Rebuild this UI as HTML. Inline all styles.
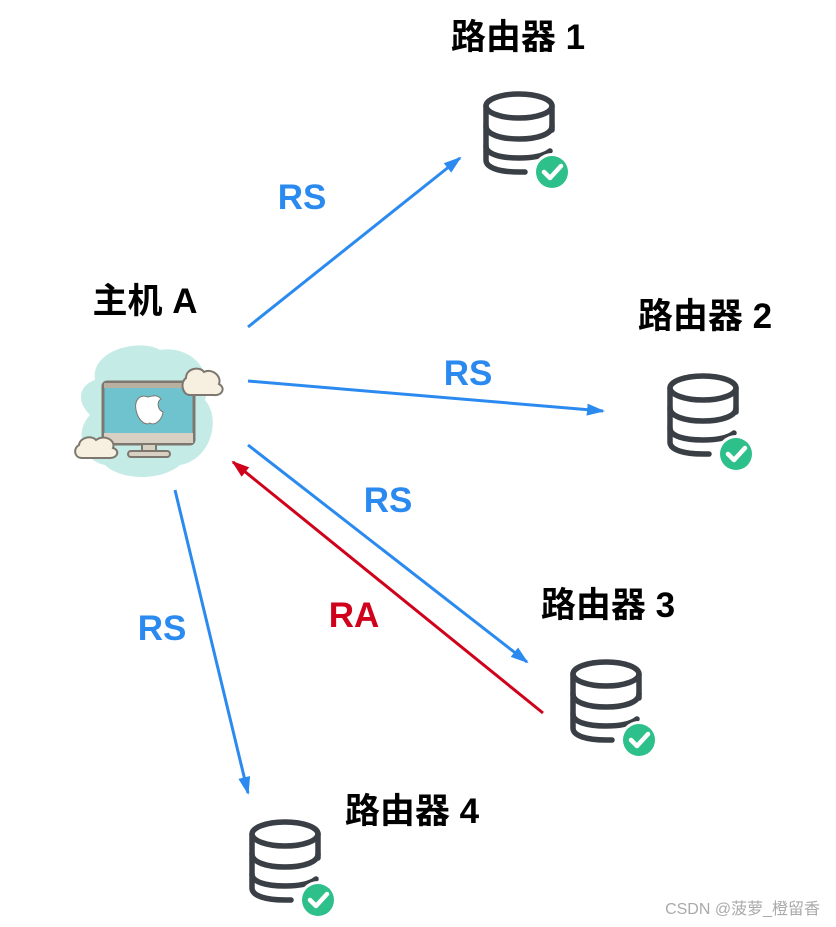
<!DOCTYPE html>
<html><head><meta charset="utf-8"><style>
body{margin:0;background:#fff;width:836px;height:927px;overflow:hidden}
svg{display:block}
text{font-family:"Liberation Sans","Noto Sans CJK SC",sans-serif;font-weight:bold}
</style></head><body>
<svg width="836" height="927" viewBox="0 0 836 927">
<defs>
<marker id="ab" markerWidth="18" markerHeight="14" refX="16" refY="7" orient="auto" markerUnits="userSpaceOnUse"><path d="M0,1 L18,7 L0,13 Z" fill="#2b8af0"/></marker>
<marker id="ar" markerWidth="18" markerHeight="14" refX="16" refY="7" orient="auto" markerUnits="userSpaceOnUse"><path d="M0,1 L18,7 L0,13 Z" fill="#d0021b"/></marker>
<g id="db">
 <g fill="none" stroke="#3a3f45" stroke-width="5.5" stroke-linecap="round">
  <ellipse cx="519" cy="106" rx="33" ry="12"/>
  <path d="M486,106 V160 C486,168 500,172 519,172 H525"/>
  <path d="M552,106 V130"/>
  <path d="M486,126 C486,134 500,139 519,139 C538,139 552,134 552,126"/>
  <path d="M486,146 C486,154 500,158 519,158 C535,158 545,155 550,151"/>
 </g>
 <circle cx="552" cy="172" r="19" fill="#fff"/>
 <circle cx="552" cy="172" r="16" fill="#2ec08a"/>
 <path d="M544,172 L550,178 L561,166" fill="none" stroke="#fff" stroke-width="4.5" stroke-linecap="round" stroke-linejoin="round"/>
</g>
</defs>
<use href="#db"/>
<use href="#db" transform="translate(184,282)"/>
<use href="#db" transform="translate(87,568)"/>
<use href="#db" transform="translate(-234,728)"/>

<g>
 <path d="M95,380 C90,350 140,338 160,350 C190,345 215,370 205,400 C222,420 210,460 180,465 C160,482 120,480 105,465 C80,460 75,430 90,415 C75,400 80,385 95,380 Z" fill="#c5ebe6"/>
 <rect x="103" y="382" width="91" height="62" rx="4" fill="#6fc3cf" stroke="#7d776f" stroke-width="3"/>
 <rect x="104" y="383" width="89" height="5" fill="#b9b0a2"/>
 <rect x="104" y="433" width="89" height="10" fill="#d8d0c2"/>
 <rect x="142" y="444" width="14" height="8" fill="#d8d0c2" stroke="#7d776f" stroke-width="2"/>
 <rect x="128" y="451" width="42" height="6" rx="3" fill="#d8d0c2" stroke="#7d776f" stroke-width="2"/>
 <path d="M148,397 C140,394 134,400 136,410 C138,420 145,426 150,423 C155,426 162,420 163,412 C158,410 156,402 161,399 C157,394 152,396 148,397 Z" fill="#fff" stroke="#7d776f" stroke-width="1"/>
 <path d="M186,378 C186,368 200,366 204,372 C212,368 222,376 219,384 C226,388 222,396 214,395 H190 C182,395 180,382 186,378 Z" fill="#f7f0e0" stroke="#7d776f" stroke-width="2"/>
 <path d="M79,445 C80,437 92,435 96,440 C104,434 116,440 113,448 C120,450 118,458 110,458 H82 C74,458 73,448 79,445 Z" fill="#f7f0e0" stroke="#7d776f" stroke-width="2"/>
</g>

<g stroke="#2b8af0" stroke-width="3" fill="none">
 <line x1="248" y1="327" x2="460" y2="158" marker-end="url(#ab)"/>
 <line x1="248" y1="381" x2="603" y2="411" marker-end="url(#ab)"/>
 <line x1="248" y1="445" x2="527" y2="662" marker-end="url(#ab)"/>
 <line x1="175" y1="490" x2="248" y2="793" marker-end="url(#ab)"/>
</g>
<line x1="543" y1="713" x2="233" y2="462" stroke="#d0021b" stroke-width="3" marker-end="url(#ar)"/>

<g font-size="35" fill="#2b8af0">
 <text x="302" y="209" text-anchor="middle">RS</text>
 <text x="468" y="385" text-anchor="middle">RS</text>
 <text x="388" y="512" text-anchor="middle">RS</text>
 <text x="162" y="640" text-anchor="middle">RS</text>
</g>
<text x="354" y="627" text-anchor="middle" font-size="35" fill="#d0021b">RA</text>

<g font-size="35" fill="#000">
 <text x="518" y="49" text-anchor="middle">路由器 1</text>
 <text x="705" y="328" text-anchor="middle">路由器 2</text>
 <text x="608" y="617" text-anchor="middle">路由器 3</text>
 <text x="412" y="823" text-anchor="middle">路由器 4</text>
 <text x="145" y="313" text-anchor="middle">主机 A</text>
</g>
<text x="820" y="914" text-anchor="end" font-size="16" fill="#aaa" style="font-weight:normal">CSDN @菠萝_橙留香</text>
</svg>
</body></html>
